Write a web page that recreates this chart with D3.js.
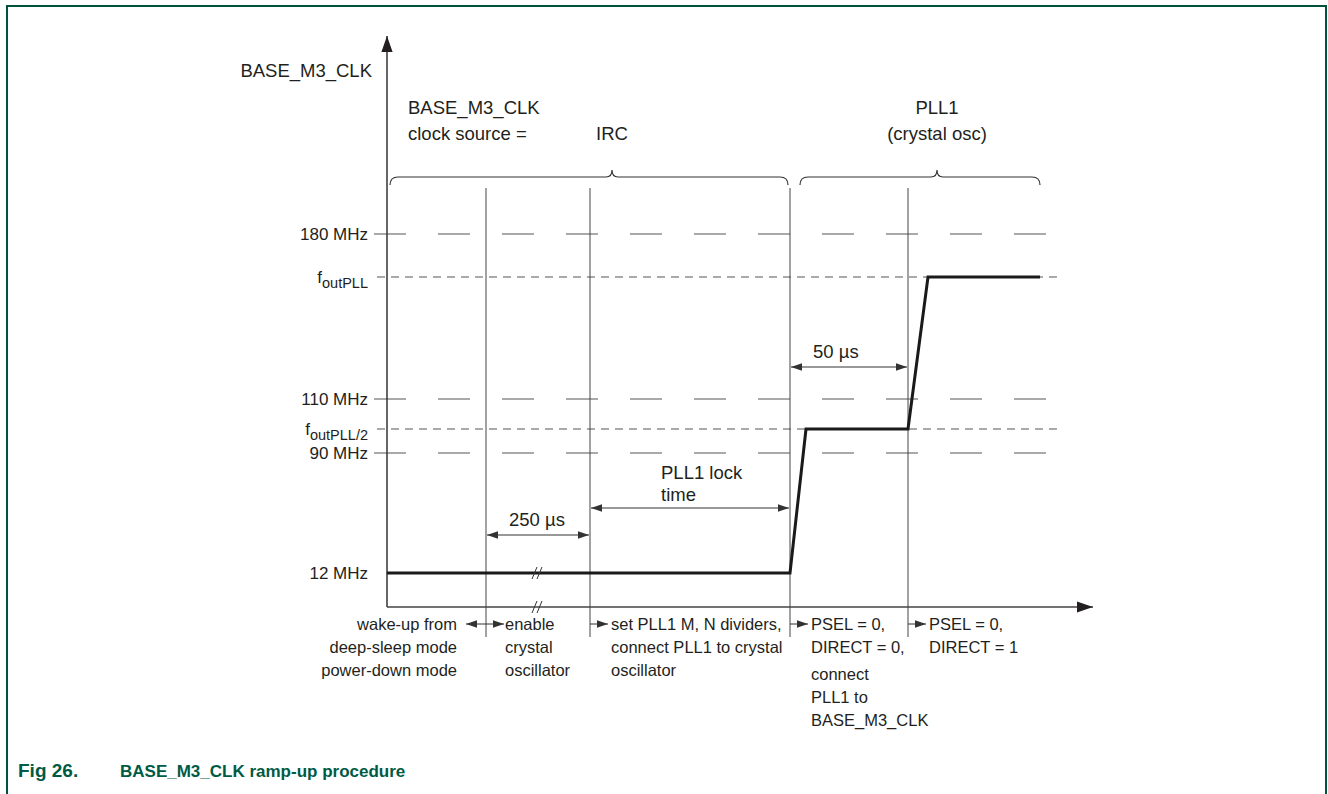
<!DOCTYPE html>
<html>
<head>
<meta charset="utf-8">
<script src="https://cdn.jsdelivr.net/npm/d3@7"></script>
<style>
  body { margin: 0; background: #fff; }
  svg text { font-family: "Liberation Sans", Arial, Helvetica, sans-serif; fill: #231f20; }
</style>
</head>
<body>
<svg id="chart" width="1328" height="794"></svg>
<script>
// --------------------------------------
// DATA (schematic units, not MHz / us)
// --------------------------------------
var levelNames  = ['180 MHz', 'fPLL', '110 MHz', 'fPLL2', '90 MHz', '12 MHz'];
var levelValues = [373, 330, 208, 178, 154, 34];
var levelStyle  = ['long', 'short', 'long', 'short', 'long', 'none'];

// phase boundaries on the time axis
var phaseTimes = [0, 99, 203, 403, 521, 653];

// BASE_M3_CLK trace
var clockTimes  = [0, 403, 419, 521, 541, 653];
var clockLevels = [34, 34, 178, 178, 330, 330];

// dimension arrows
var spans = [
    { from: 99,  to: 203, level: 72,  label: ['250 µs'] },
    { from: 203, to: 403, level: 99,  label: ['PLL1 lock', 'time'] },
    { from: 403, to: 521, level: 240, label: ['50 µs'] }
];

// clock source braces (tip = where the brace points up)
var braces = [
    { from: 3,   to: 401, tip: 225, label: ['IRC'] },
    { from: 413, to: 653, tip: 550, label: ['PLL1', '(crystal osc)'] }
];

// step descriptions under the time axis
var steps = [
    { at: 0,   lines: ['wake-up from', 'deep-sleep mode', 'power-down mode'] },
    { at: 99,  lines: ['enable', 'crystal', 'oscillator'] },
    { at: 203, lines: ['set PLL1 M, N dividers,', 'connect PLL1 to crystal', 'oscillator'] },
    { at: 403, lines: ['PSEL = 0,', 'DIRECT = 0,', 'connect', 'PLL1 to', 'BASE_M3_CLK'] },
    { at: 521, lines: ['PSEL = 0,', 'DIRECT = 1'] }
];

// --------------------------------------
// SETUP
// --------------------------------------
var svg = d3.select('#chart');
var INK = '#231f20', GREY = '#555';
var BIG = '18.5px', MID = '17px', SMALL = '16.5px';

var x = d3.scaleLinear().domain([0, 706]).range([387, 1093]);
var y = d3.scaleLinear().domain([0, 400]).range([607, 207]);

var defs = svg.append('defs');
function marker(id, size, color) {
    defs.append('marker').attr('id', id)
        .attr('viewBox', '0 0 10 10').attr('refX', 10).attr('refY', 5)
        .attr('markerWidth', size).attr('markerHeight', size)
        .attr('markerUnits', 'userSpaceOnUse')
        .attr('orient', 'auto-start-reverse')
        .append('path').attr('d', 'M0,1.5 L10,5 L0,8.5 Z').attr('fill', color);
}
marker('head', 11, '#333');
marker('bigHead', 16, INK);

// frame
svg.append('path')
    .attr('d', 'M7,794 V6 H1326 V794')
    .attr('fill', 'none').attr('stroke', '#00513d').attr('stroke-width', 2);

// caption
svg.append('text').attr('x', 18).attr('y', 777)
    .style('font-size', '19px').style('font-weight', 'bold').style('fill', '#005b45')
    .text('Fig 26.');
svg.append('text').attr('x', 120).attr('y', 777)
    .style('font-size', '17px').style('font-weight', 'bold').style('fill', '#005b45')
    .text('BASE_M3_CLK ramp-up procedure');

// --------------------------------------
// level lines
// --------------------------------------
var gLevels = svg.append('g');
levelValues.forEach(function (v, i) {
    if (levelStyle[i] === 'long') {
        gLevels.append('line')
            .attr('x1', x(-13)).attr('x2', x(659)).attr('y1', y(v)).attr('y2', y(v))
            .attr('stroke', GREY).attr('stroke-width', 1.2).attr('stroke-dasharray', '32,32');
    } else if (levelStyle[i] === 'short') {
        gLevels.append('line')
            .attr('x1', x(-10)).attr('x2', x(675)).attr('y1', y(v)).attr('y2', y(v))
            .attr('stroke', GREY).attr('stroke-width', 1).attr('stroke-dasharray', '8,6');
    }
});

// level labels
levelNames.forEach(function (name, i) {
    var t = svg.append('text')
        .attr('x', 368).attr('y', y(levelValues[i]) + 6)
        .attr('text-anchor', 'end').style('font-size', MID);
    if (name === 'fPLL' || name === 'fPLL2') {
        t.append('tspan').text('f');
        t.append('tspan').attr('dy', 5).style('font-size', '14.5px')
            .text(name === 'fPLL' ? 'outPLL' : 'outPLL/2');
    } else {
        t.text(name);
    }
});

// --------------------------------------
// phase boundaries
// --------------------------------------
svg.append('g').selectAll('line')
    .data(phaseTimes.slice(1, 5))
    .enter().append('line')
    .attr('x1', function (d) { return x(d); }).attr('x2', function (d) { return x(d); })
    .attr('y1', 188).attr('y2', 637)
    .attr('stroke', '#444').attr('stroke-width', 1);

// --------------------------------------
// axes
// --------------------------------------
svg.append('line')
    .attr('x1', x(0)).attr('x2', x(0)).attr('y1', y(0)).attr('y2', 36)
    .attr('stroke', '#333').attr('stroke-width', 1.5).attr('marker-end', 'url(#bigHead)');
svg.append('line')
    .attr('x1', x(0)).attr('x2', x(706)).attr('y1', y(0)).attr('y2', y(0))
    .attr('stroke', '#444').attr('stroke-width', 1.5).attr('marker-end', 'url(#bigHead)');

svg.append('text').attr('x', 372).attr('y', 77)
    .attr('text-anchor', 'end').style('font-size', BIG).text('BASE_M3_CLK');
svg.append('text').attr('x', 408).attr('y', 114).style('font-size', BIG).text('BASE_M3_CLK');
svg.append('text').attr('x', 408).attr('y', 140).style('font-size', BIG).text('clock source =');

// --------------------------------------
// braces
// --------------------------------------
function bracePath(x0, x1, xm, yb) {
    var r = 6;
    return 'M' + x0 + ',' + (yb + 8) +
        ' Q' + x0 + ',' + yb + ' ' + (x0 + r + 2) + ',' + yb +
        ' H' + (xm - r) +
        ' Q' + xm + ',' + yb + ' ' + xm + ',' + (yb - 7) +
        ' Q' + xm + ',' + yb + ' ' + (xm + r) + ',' + yb +
        ' H' + (x1 - r - 2) +
        ' Q' + x1 + ',' + yb + ' ' + x1 + ',' + (yb + 8);
}
braces.forEach(function (b) {
    svg.append('path').attr('d', bracePath(x(b.from), x(b.to), x(b.tip), 177))
        .attr('fill', 'none').attr('stroke', '#333').attr('stroke-width', 1.2);
    b.label.forEach(function (l, i) {
        svg.append('text').attr('x', x(b.tip))
            .attr('y', 140 - (b.label.length - 1 - i) * 26)
            .attr('text-anchor', 'middle').style('font-size', BIG).text(l);
    });
});

// --------------------------------------
// clock trace
// --------------------------------------
var line = d3.line()
    .x(function (d) { return x(d[0]); })
    .y(function (d) { return y(d[1]); });
svg.append('path')
    .datum(d3.zip(clockTimes, clockLevels))
    .attr('d', line)
    .attr('fill', 'none').attr('stroke', '#1a1a1a').attr('stroke-width', 3)
    .attr('stroke-linejoin', 'miter');

// break marks
[clockLevels[0], 0].forEach(function (v) {
    [-2.5, 2.5].forEach(function (dx) {
        svg.append('line')
            .attr('x1', x(150) + dx - 2.5).attr('x2', x(150) + dx + 2.5)
            .attr('y1', y(v) + 6).attr('y2', y(v) - 6)
            .attr('stroke', '#333').attr('stroke-width', 1);
    });
});

// --------------------------------------
// dimension arrows
// --------------------------------------
spans.forEach(function (s) {
    var yy = y(s.level);
    var multi = s.label.length > 1;
    svg.append('line')
        .attr('x1', x(s.from) + 1).attr('x2', x(s.to) - 1).attr('y1', yy).attr('y2', yy)
        .attr('stroke', '#333').attr('stroke-width', 1)
        .attr('marker-start', 'url(#head)').attr('marker-end', 'url(#head)');
    s.label.forEach(function (l, i) {
        svg.append('text')
            .attr('x', multi ? x(s.from) + 71 : x(s.from) + 23)
            .attr('y', multi ? yy - 7 - (s.label.length - 1 - i) * 22 : yy - 9)
            .style('font-size', BIG).text(l);
    });
});

// --------------------------------------
// step descriptions
// --------------------------------------
steps.forEach(function (s, k) {
    var x0 = x(s.at);
    var g = svg.append('g');
    if (k === 0) {
        g.append('line')
            .attr('x1', x(phaseTimes[1]) - 20).attr('x2', x(phaseTimes[1]) + 18)
            .attr('y1', 624).attr('y2', 624)
            .attr('stroke', '#333').attr('stroke-width', 1)
            .attr('marker-start', 'url(#head)').attr('marker-end', 'url(#head)');
        s.lines.forEach(function (l, i) {
            g.append('text').attr('x', 457).attr('y', 630 + i * 23)
                .attr('text-anchor', 'end').style('font-size', SMALL).text(l);
        });
        return;
    }
    if (k > 1) {
        g.append('line')
            .attr('x1', x0).attr('x2', x0 + 18).attr('y1', 624).attr('y2', 624)
            .attr('stroke', '#333').attr('stroke-width', 1)
            .attr('marker-end', 'url(#head)');
    }
    var tx = k === 1 ? x0 + 19 : x0 + 21;
    s.lines.forEach(function (l, i) {
        var extra = (k === 3 && i >= 2) ? 4 : 0;
        g.append('text').attr('x', tx).attr('y', 630 + i * 23 + extra)
            .style('font-size', SMALL).text(l);
    });
});
</script>
</body>
</html>
